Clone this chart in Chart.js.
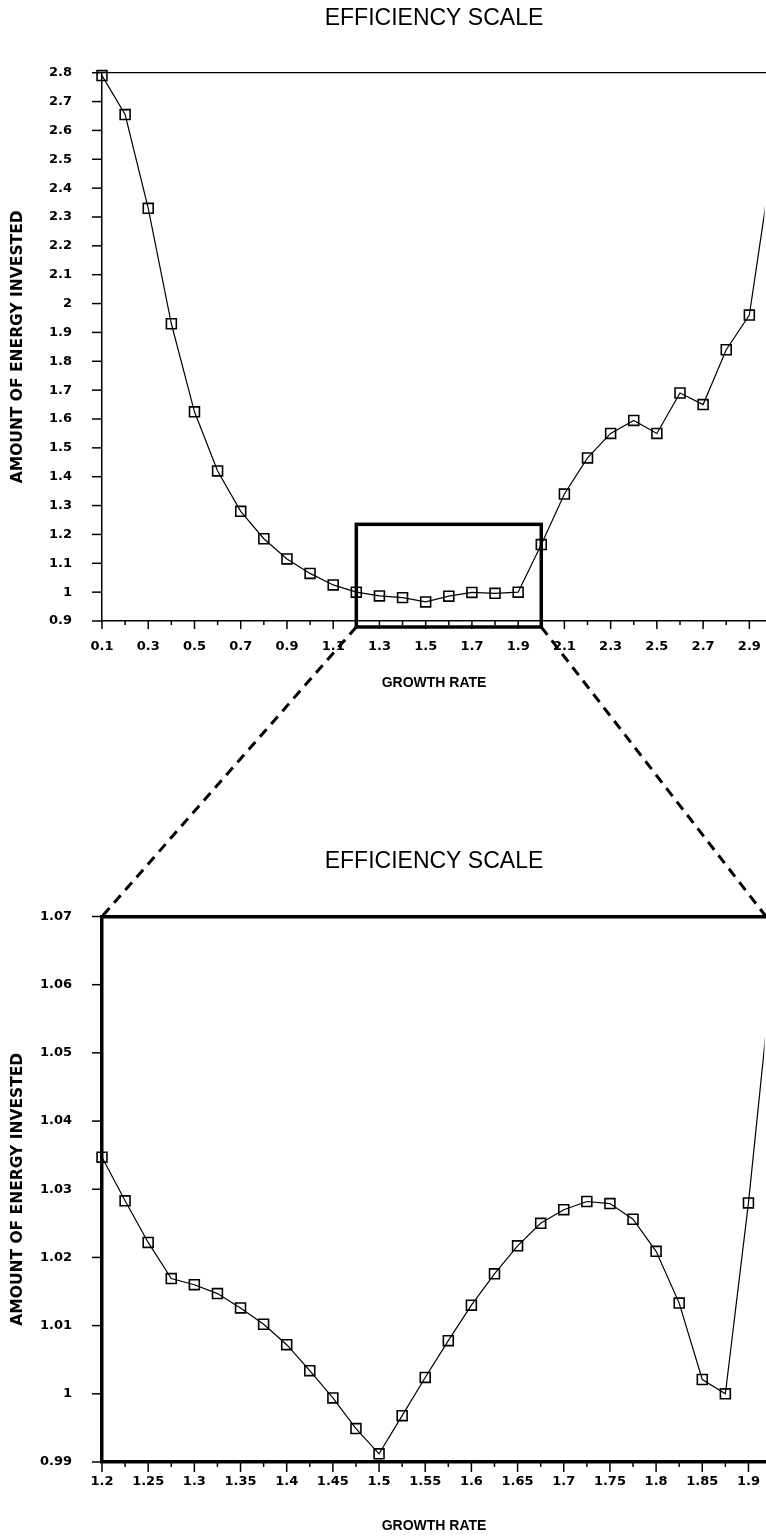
<!DOCTYPE html>
<html>
<head>
<meta charset="utf-8">
<script src="https://cdn.jsdelivr.net/npm/chart.js@4/dist/chart.umd.min.js"></script>
<style>
  body { margin: 0; background: #fff; }
  #page { position: relative; width: 766px; height: 1537px; overflow: hidden; }
  canvas { position: absolute; left: 0; }
</style>
</head>
<body>
<div id="page">
  <canvas id="vue" width="766" height="700" style="top:0"></canvas>
  <canvas id="loupe" width="766" height="702" style="top:835px"></canvas>
  <canvas id="liens" width="766" height="1537" style="top:0; pointer-events:none"></canvas>
</div>
<script>
"use strict";

// courbe complete
const tauxGlobal = [0.1, 0.2, 0.3, 0.4, 0.5, 0.6, 0.7, 0.8, 0.9, 1.0, 1.1, 1.2, 1.3, 1.4, 1.5,
  1.6, 1.7, 1.8, 1.9, 2.0, 2.1, 2.2, 2.3, 2.4, 2.5, 2.6, 2.7, 2.8, 2.9, 3.0];
const energieGlobal = [2.79, 2.655, 2.33, 1.93, 1.625, 1.42, 1.28, 1.185, 1.115, 1.065, 1.025, 1.0, 0.987, 0.981, 0.966,
  0.986, 0.999, 0.996, 1.0, 1.165, 1.34, 1.465, 1.55, 1.595, 1.55, 1.69, 1.65, 1.84, 1.96, 2.5];

// agrandissement entre 1.2 et 2.0
const tauxLoupe = [1.2, 1.225, 1.25, 1.275, 1.3, 1.325, 1.35, 1.375, 1.4, 1.425, 1.45, 1.475, 1.5, 1.525, 1.55,
  1.575, 1.6, 1.625, 1.65, 1.675, 1.7, 1.725, 1.75, 1.775, 1.8, 1.825, 1.85, 1.875, 1.9, 1.925];
const energieLoupe = [1.0347, 1.0283, 1.0222, 1.0169, 1.016, 1.0147, 1.0126, 1.0102, 1.0072, 1.0034, 0.9994, 0.9949, 0.9912, 0.9968, 1.0024,
  1.0078, 1.013, 1.0176, 1.0217, 1.025, 1.027, 1.0282, 1.0279, 1.0256, 1.0209, 1.0133, 1.0021, 1.0, 1.028, 1.061];

// graduations
const xGraduationsGlobal = [0.1, 0.2, 0.3, 0.4, 0.5, 0.6, 0.7, 0.8, 0.9, 1, 1.1, 1.2, 1.3, 1.4, 1.5,
  1.6, 1.7, 1.8, 1.9, 2, 2.1, 2.2, 2.3, 2.4, 2.5, 2.6, 2.7, 2.8, 2.9];
const xEtiquettesGlobal = [0.1, 0.3, 0.5, 0.7, 0.9, 1.1, 1.3, 1.5, 1.7, 1.9, 2.1, 2.3, 2.5, 2.7, 2.9];
const yGraduationsGlobal = [0.9, 1, 1.1, 1.2, 1.3, 1.4, 1.5, 1.6, 1.7, 1.8, 1.9, 2, 2.1, 2.2, 2.3, 2.4, 2.5, 2.6, 2.7, 2.8];

const xGraduationsLoupe = [1.2, 1.225, 1.25, 1.275, 1.3, 1.325, 1.35, 1.375, 1.4, 1.425, 1.45, 1.475, 1.5, 1.525, 1.55,
  1.575, 1.6, 1.625, 1.65, 1.675, 1.7, 1.725, 1.75, 1.775, 1.8, 1.825, 1.85, 1.875, 1.9];
const xEtiquettesLoupe = [1.2, 1.25, 1.3, 1.35, 1.4, 1.45, 1.5, 1.55, 1.6, 1.65, 1.7, 1.75, 1.8, 1.85, 1.9];
const yGraduationsLoupe = [0.99, 1, 1.01, 1.02, 1.03, 1.04, 1.05, 1.06, 1.07];

// zone agrandie : [xmin, xmax, ymin, ymax]
const zoneLoupe = [1.2, 2.0, 0.9, 1.235];

const NOIR = '#000';
const TITRE = 'EFFICIENCY SCALE';
const TITRE_X = 'GROWTH RATE';
const TITRE_Y = 'AMOUNT OF ENERGY INVESTED';

function contient(liste, v) {
  return liste.some(e => Math.abs(e - v) < 1e-9);
}

// petits traits sous l'axe x et a gauche de l'axe y
const graduations = {
  id: 'graduations',
  afterDraw(chart, args, opts) {
    const { ctx, chartArea, scales } = chart;
    ctx.save();
    ctx.strokeStyle = NOIR;
    ctx.lineWidth = opts.epaisseur;
    scales.x.ticks.forEach(t => {
      const px = scales.x.getPixelForValue(t.value);
      const long = t.label !== '' ? opts.majeure : opts.mineure;
      ctx.beginPath();
      ctx.moveTo(px, chartArea.bottom);
      ctx.lineTo(px, chartArea.bottom + long);
      ctx.stroke();
    });
    scales.y.ticks.forEach(t => {
      const py = scales.y.getPixelForValue(t.value);
      ctx.beginPath();
      ctx.moveTo(chartArea.left - opts.gauche, py);
      ctx.lineTo(chartArea.left, py);
      ctx.stroke();
    });
    ctx.restore();
  }
};

// cadre autour de la zone agrandie
const cadre = {
  id: 'cadre',
  afterDraw(chart, args, opts) {
    if (!opts.zone) return;
    const { ctx, chartArea, scales } = chart;
    const x1 = scales.x.getPixelForValue(opts.zone[0]);
    const x2 = scales.x.getPixelForValue(opts.zone[1]);
    const y1 = scales.y.getPixelForValue(opts.zone[3]);
    const y2 = chartArea.bottom + opts.decalage;
    ctx.save();
    ctx.strokeStyle = NOIR;
    ctx.lineWidth = opts.epaisseur;
    ctx.strokeRect(x1, y1, x2 - x1, y2 - y1);
    ctx.restore();
  }
};

// pas de marge a droite : la courbe sort du cadre
function sansMarge(s) {
  s.paddingLeft = 0;
  s.paddingRight = 0;
}

function creerGraphique(id, r) {
  const points = r.taux.map((x, i) => ({ x: x, y: r.energie[i] }));
  return new Chart(document.getElementById(id), {
    type: 'line',
    data: {
      datasets: [{
        data: points,
        borderColor: NOIR,
        borderWidth: 1.2,
        tension: 0,
        pointStyle: 'rect',
        pointRadius: 7,
        pointBorderWidth: 1.6,
        pointBorderColor: NOIR,
        pointBackgroundColor: 'rgba(0,0,0,0)',
        // carres entiers sur les axes, coupe net a droite
        clip: { left: false, top: false, right: -1.5, bottom: false }
      }]
    },
    plugins: [graduations, cadre],
    options: {
      responsive: false,
      animation: false,
      events: [],
      layout: { padding: 0, autoPadding: false },
      plugins: {
        legend: { display: false },
        tooltip: { enabled: false },
        title: { display: false },
        graduations: { epaisseur: 1.5, majeure: r.tickMajeur, mineure: r.tickMineur, gauche: 10 },
        cadre: { zone: r.zone, decalage: 6, epaisseur: 3.5 }
      },
      scales: {
        x: {
          type: 'linear',
          min: r.xMin,
          max: r.xMax,
          afterBuildTicks: s => { s.ticks = r.xGraduations.map(v => ({ value: v })); },
          afterFit: s => { s.height = r.hauteurX; sansMarge(s); },
          grid: { display: true, drawOnChartArea: false, drawTicks: false },
          border: { display: true, color: NOIR, width: r.epaisseurAxe },
          ticks: {
            autoSkip: false,
            maxRotation: 0,
            padding: r.paddingX,
            color: NOIR,
            font: { family: '"DejaVu Sans", sans-serif', size: 13, weight: 'bold' },
            callback: v => contient(r.xEtiquettes, v) ? String(v) : ''
          },
          title: {
            display: true,
            text: TITRE_X,
            color: NOIR,
            font: { family: '"Liberation Sans", Arial, sans-serif', size: 14, weight: 'bold' },
            padding: { top: 0, bottom: r.paddingTitreX }
          }
        },
        // axe du haut : trait superieur du cadre et titre centre sur la zone de trace
        haut: {
          type: 'linear',
          position: 'top',
          min: r.xMin,
          max: r.xMax,
          afterFit: s => { s.height = r.hauteurHaut; sansMarge(s); },
          grid: { display: true, drawOnChartArea: false, drawTicks: false },
          border: { display: true, color: NOIR, width: r.epaisseurHaut },
          ticks: { display: false },
          title: {
            display: true,
            text: TITRE,
            color: NOIR,
            font: { family: '"Liberation Sans", Arial, sans-serif', size: 23, weight: 'normal' },
            padding: { top: r.paddingTitre, bottom: 0 }
          }
        },
        y: {
          type: 'linear',
          min: r.yGraduations[0],
          max: r.yGraduations[r.yGraduations.length - 1],
          afterBuildTicks: s => { s.ticks = r.yGraduations.map(v => ({ value: v })); },
          afterFit: s => { s.width = 102; },
          grid: { display: true, drawOnChartArea: false, drawTicks: false },
          border: { display: true, color: NOIR, width: r.epaisseurAxe },
          ticks: {
            autoSkip: false,
            padding: 30,
            color: NOIR,
            font: { family: '"DejaVu Sans", sans-serif', size: 13, weight: 'bold' },
            callback: v => String(v)
          },
          title: {
            display: true,
            text: TITRE_Y,
            color: NOIR,
            font: { family: '"DejaVu Sans", sans-serif', size: 15.5, weight: 'bold' },
            padding: { top: 9, bottom: 0 }
          }
        }
      }
    }
  });
}

const vue = creerGraphique('vue', {
  taux: tauxGlobal, energie: energieGlobal,
  xGraduations: xGraduationsGlobal, xEtiquettes: xEtiquettesGlobal, yGraduations: yGraduationsGlobal,
  xMin: 0.1, xMax: 2.972,
  zone: zoneLoupe,
  hauteurHaut: 72.7, paddingTitre: 4.5,
  hauteurX: 79, paddingX: 18, paddingTitreX: 8,
  tickMajeur: 8, tickMineur: 4,
  epaisseurAxe: 1.5, epaisseurHaut: 1.2
});

const loupe = creerGraphique('loupe', {
  taux: tauxLoupe, energie: energieLoupe,
  xGraduations: xGraduationsLoupe, xEtiquettes: xEtiquettesLoupe, yGraduations: yGraduationsLoupe,
  xMin: 1.2, xMax: 1.919,
  zone: null,
  hauteurHaut: 81.5, paddingTitre: 13,
  hauteurX: 75, paddingX: 12, paddingTitreX: 2,
  tickMajeur: 10, tickMineur: 5,
  epaisseurAxe: 3.5, epaisseurHaut: 3.5
});

// traits pointilles reliant le cadre au graphique agrandi
function tracerLiens() {
  const ctx = document.getElementById('liens').getContext('2d');
  const ax = vue.scales.x;
  const bas = vue.chartArea.bottom + vue.options.plugins.cadre.decalage;
  const haut = document.getElementById('loupe').offsetTop + loupe.chartArea.top;
  ctx.strokeStyle = NOIR;
  ctx.lineWidth = 3;
  ctx.setLineDash([10, 7]);
  ctx.beginPath();
  ctx.moveTo(ax.getPixelForValue(zoneLoupe[0]), bas);
  ctx.lineTo(loupe.chartArea.left, haut);
  ctx.moveTo(ax.getPixelForValue(zoneLoupe[1]), bas);
  ctx.lineTo(loupe.chartArea.right, haut);
  ctx.stroke();
}
tracerLiens();
</script>
</body>
</html>
